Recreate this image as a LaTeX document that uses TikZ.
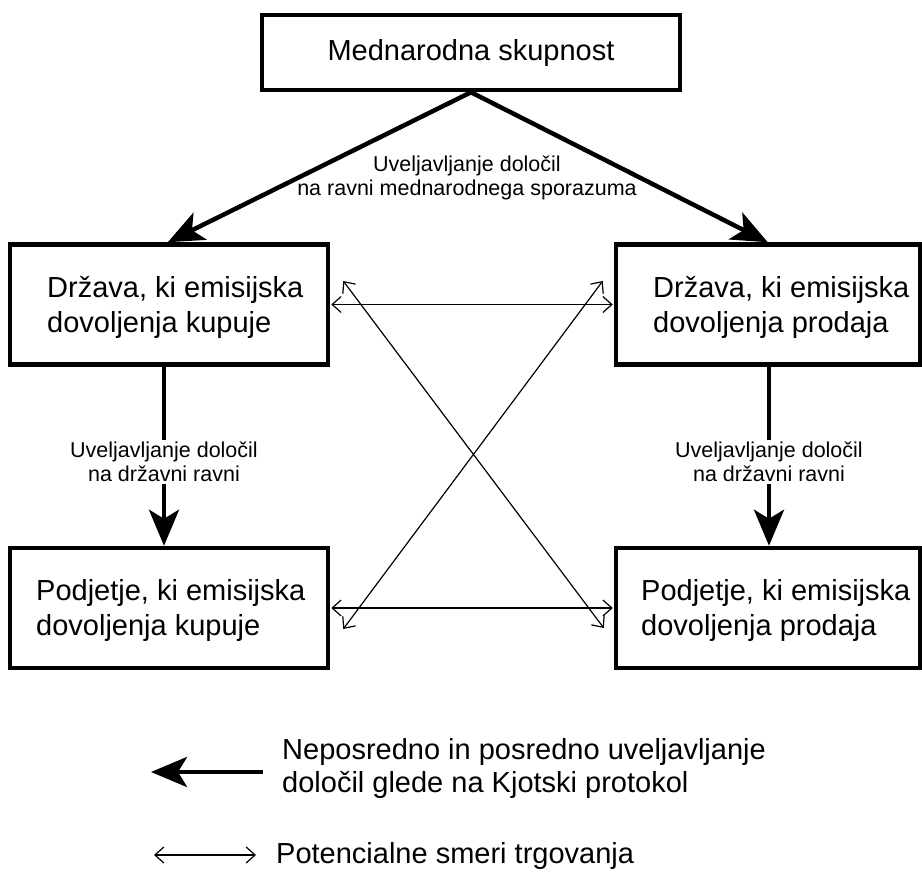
\documentclass[tikz,border=0pt]{standalone}
\usepackage{fontspec}
\setmainfont{Liberation Sans}
\usetikzlibrary{arrows.meta}
\begin{document}
\begin{tikzpicture}[x=1pt,y=-1pt,
  box/.style={draw, line width=4.5pt, minimum height=120pt, inner sep=0pt},
  boxtext/.style={anchor=west, align=left, inner sep=0pt, font=\fontsize{29}{35}\selectfont},
  lbl/.style={fill=white, align=center, inner sep=2pt, font=\fontsize{21.5}{24}\selectfont},
  thick/.style={line width=4.5pt, -{Stealth[length=36pt,width=30pt,inset=9pt]}},
  vtip/.tip={Straight Barb[length=9pt,width=16pt,line join=miter,line cap=butt]},
  trade/.style={line width=1.2pt, vtip-vtip}
]
\useasboundingbox (0,0) rectangle (922,877);

% boxes
\node[box, minimum width=418pt, minimum height=75pt] (top) at (471,52.5) {};
\node[font=\fontsize{29}{35}\selectfont] (toptext) at (471,53) {Mednarodna skupnost};

\node[box, minimum width=318pt] (lm) at (169,304.5) {};
\node[box, minimum width=304pt] (rm) at (768,304.5) {};
\node[box, minimum width=318pt] (lb) at (169,608) {};
\node[box, minimum width=304pt] (rb) at (768,608) {};

\node[boxtext] (lmt) at (47,307) {Država, ki emisijska\\dovoljenja kupuje};
\node[boxtext] (rmt) at (653,307) {Država, ki emisijska\\dovoljenja prodaja};
\node[boxtext] (lbt) at (36,611) {Podjetje, ki emisijska\\dovoljenja kupuje};
\node[boxtext] (rbt) at (641,611) {Podjetje, ki emisijska\\dovoljenja prodaja};

% thick arrows from the top
\draw[thick] (top.south) -- ([xshift=160pt]lm.north west);
\draw[thick] (top.south) -- ([xshift=154pt]rm.north west);
\node[lbl, fill=none] (toplbl) at (467,178) {Uveljavljanje določil\\na ravni mednarodnega sporazuma};

% vertical thick arrows
\draw[thick] ([xshift=-5pt]lm.south) -- node[lbl, pos=0.53] (llbl) {Uveljavljanje določil\\na državni ravni} ([xshift=-5pt]lb.north);
\draw[thick] ([xshift=1pt]rm.south) -- node[lbl, pos=0.53] (rlbl) {Uveljavljanje določil\\na državni ravni} ([xshift=1pt]rb.north);

% trade arrows
\draw[trade] ([xshift=1pt]lm.east) -- ([xshift=-1pt]rm.west);
\draw[trade] ([xshift=1pt]lb.east) -- ([xshift=-1pt]rb.west);
\draw[trade] ([xshift=13pt,yshift=23.5pt]lm.east) -- ([xshift=-10pt,yshift=-20pt]rb.west);
\draw[trade] ([xshift=-11pt,yshift=23.5pt]rm.west) -- ([xshift=13pt,yshift=-21pt]lb.east);

% legend
\coordinate (l1a) at (263,772);
\coordinate (l1b) at (151,772);
\draw[thick] (l1a) -- (l1b);
\node[boxtext, font=\fontsize{29}{33}\selectfont] (leg1) at (282,769) {Neposredno in posredno uveljavljanje\\določil glede na Kjotski protokol};

\coordinate (l2a) at (154,855);
\coordinate (l2b) at (256,855);
\draw[trade] (l2a) -- (l2b);
\node[boxtext] (leg2) at (276,856) {Potencialne smeri trgovanja};
\end{tikzpicture}
\end{document}
